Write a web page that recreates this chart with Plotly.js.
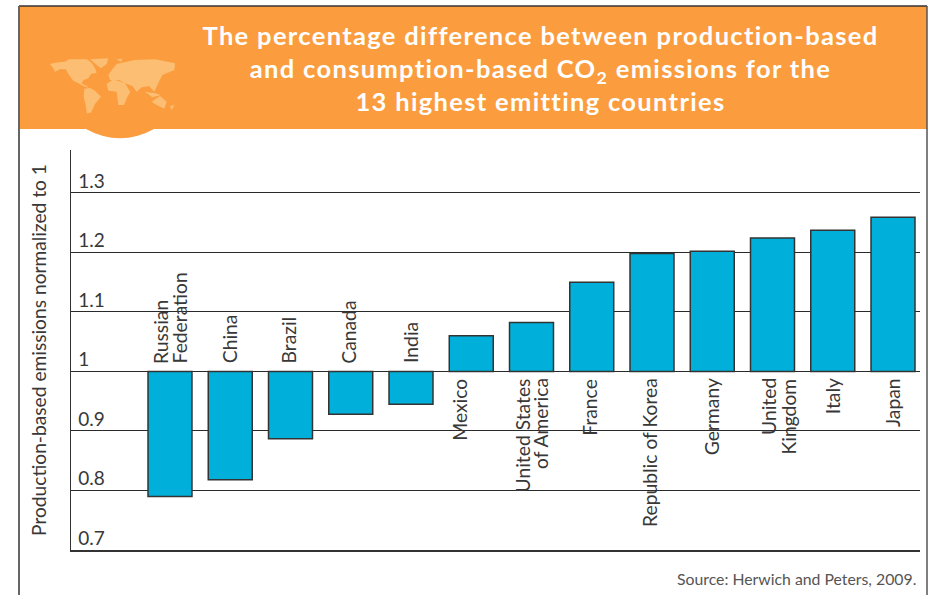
<!DOCTYPE html>
<html>
<head>
<meta charset="utf-8">
<script src="https://cdn.plot.ly/plotly-3.0.1.min.js"></script>
<style>html,body{margin:0;padding:0;background:#fff;overflow:hidden}
.gtitle{letter-spacing:1.33px}</style>
</head>
<body>
<div id="chart" style="width:934px;height:595px"></div>
<script>
const categories = ["Russian Federation","China","Brazil","Canada","India","Mexico","United States of America","France","Republic of Korea","Germany","United Kingdom","Italy","Japan"];
const labelLines = [["Russian","Federation"],["China"],["Brazil"],["Canada"],["India"],["Mexico"],["United States","of America"],["France"],["Republic of Korea"],["Germany"],["United","Kingdom"],["Italy"],["Japan"]];
const values = [0.79,0.818,0.887,0.928,0.945,1.06,1.082,1.15,1.198,1.202,1.224,1.237,1.259];
const tickValues = [0.7,0.8,0.9,1,1.1,1.2,1.3];
const tickLabels = ["0.7","0.8","0.9","1","1.1","1.2","1.3"];
const baseline = 1;

const W = 934, H = 595;
const FONT = 'Lato, "Noto Sans", sans-serif';
const px = x => x / W, py = y => 1 - y / H;
const poly = pts => pts.map((p, i) => (i ? 'L' : 'M') + px(45 + p[0] / 3).toFixed(4) + ',' + py(50 + p[1] / 3).toFixed(4)).join(' ') + ' Z';
const continents = [
  [[15,42],[30,38],[60,35],[72,28],[100,28],[125,28],[140,38],[150,55],[155,68],[138,72],[130,85],[116,90],[110,100],[125,108],[132,114],[115,108],[100,100],[85,92],[72,75],[62,58],[45,58],[30,65],[25,55]],
  [[135,28],[190,25],[185,42],[168,55],[155,45]],
  [[118,116],[135,114],[150,122],[168,140],[150,162],[138,188],[126,190],[122,165],[116,140]],
  [[190,75],[200,60],[215,42],[270,30],[330,28],[390,40],[388,60],[352,75],[342,95],[328,125],[312,108],[290,112],[275,125],[262,108],[240,100],[222,90],[195,90]],
  [[185,102],[205,88],[240,100],[256,126],[245,145],[237,165],[220,165],[215,125],[190,122]],
  [[320,155],[345,138],[365,155],[358,176],[335,165]],
  [[300,125],[330,130],[348,135],[322,142]],
  [[215,28],[232,26],[228,36]],
  [[375,168],[388,165],[380,180]]
];
const line = (x0,y0,x1,y1,color,width) => ({type:'line',xref:'paper',yref:'paper',x0:px(x0),y0:py(y0),x1:px(x1),y1:py(y1),line:{color,width},layer:'below'});
const shapes = [
  {type:'rect',xref:'paper',yref:'paper',x0:px(19),x1:px(927),y0:py(6),y1:py(129),fillcolor:'#FB9D3F',line:{width:0},layer:'below'},
  {type:'path',xref:'paper',yref:'paper',path:`M${px(85)},${py(128.5)} Q${px(120)},${py(148)} ${px(155)},${py(128.5)} Z`,fillcolor:'#FB9D3F',line:{width:0},layer:'below'},
  ...continents.map(c => ({type:'path',xref:'paper',yref:'paper',path:poly(c),fillcolor:'#FBBE72',line:{width:0},layer:'below'})),
  line(19,6,927,6,'#333333',1.5),
  line(19,6,19,595,'#666666',2),
  line(927,6,927,595,'#555555',1.5)
];

// horizontal nudges of the rotated labels, as drawn in the reference
const labelNudge = {5:-12, 10:6, 2:-2, 3:-2, 7:-2, 8:-2};
const lineGap = 19;
const annotations = [];
categories.forEach((c,i) => {
  const up = values[i] < baseline;
  const parts = labelLines[i];
  parts.forEach((t,k) => annotations.push({
    xref:'x',yref:'y',x:i,y:baseline,text:t,textangle:-90,showarrow:false,
    xanchor:'center',yanchor:up?'bottom':'top',yshift:up?7:-6,
    xshift:(labelNudge[i]||0)+(k-(parts.length-1)/2)*lineGap,
    font:{family:FONT,size:19.3,color:'#383838'},borderpad:0
  }));
});
annotations.push({xref:'paper',yref:'paper',x:px(918),y:py(578),text:'Source: Herwich and Peters, 2009.',showarrow:false,xanchor:'right',yanchor:'middle',font:{family:FONT,size:15.8,color:'#555555'}});

const trace = {
  type:'bar',x:categories.map((c,i)=>i),y:values.map(v=>v-baseline),base:baseline,width:0.73,
  customdata:categories,hovertemplate:'%{customdata}<extra></extra>',
  marker:{color:'#00B0DA',line:{color:'#333333',width:1.5}}
};
const layout = {
  width:W,height:H,margin:{l:0,r:0,t:0,b:0},paper_bgcolor:'#fff',plot_bgcolor:'rgba(0,0,0,0)',showlegend:false,
  title:{text:'The percentage difference between production-based<br>and consumption-based CO<sub>2</sub> emissions for the<br>13 highest emitting countries',
    x:px(540.5),xanchor:'center',y:py(45),yanchor:'middle',font:{family:FONT,size:25.5,color:'#fff',weight:700}},
  xaxis:{domain:[px(71),px(920)],range:[-1.643,12.448],showticklabels:false,ticks:'',showgrid:false,zeroline:false,showline:true,linecolor:'#333333',linewidth:1.5,fixedrange:true},
  yaxis:{domain:[py(550),py(150)],range:[0.7,1.372],tickmode:'array',tickvals:tickValues,ticktext:tickLabels,
    ticklabelposition:'inside',ticklabelshift:-12,ticklabelstandoff:8,ticks:'',
    tickfont:{family:FONT,size:19,color:'#383838'},showgrid:true,gridcolor:'#2a2a2a',gridwidth:1,zeroline:false,
    showline:true,linecolor:'#333333',linewidth:1.5,fixedrange:true,
    title:{text:'Production-based emissions normalized to 1',standoff:26,font:{family:FONT,size:19.2,color:'#383838'}}},
  shapes,annotations,bargap:0.27
};
Plotly.newPlot('chart',[trace],layout,{displayModeBar:false,staticPlot:true});
</script>
</body>
</html>
